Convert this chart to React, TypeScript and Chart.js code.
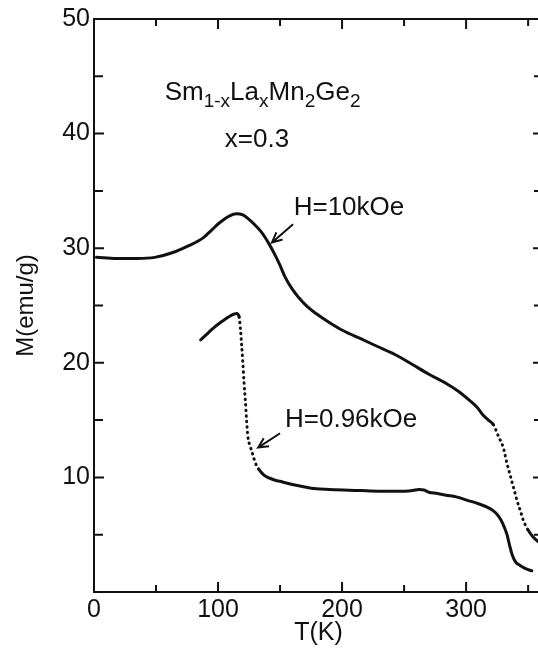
import React, { useEffect, useRef } from "react";
import { Chart, registerables } from "chart.js";

Chart.register(...registerables);

// ---- data ----
const tempHigh = [2, 18, 35, 49, 63, 76, 88, 95, 101, 109, 115, 120, 124, 130, 135, 141, 146, 150, 154, 160, 165, 172, 179, 190, 201, 215, 229, 243, 256, 270, 284, 294, 303, 309, 314, 318, 322, 326, 330, 333, 336, 339, 341, 344, 346, 350, 354, 358];
const magHigh = [29.2, 29.1, 29.1, 29.2, 29.6, 30.2, 30.9, 31.6, 32.2, 32.8, 33.0, 32.9, 32.6, 32.0, 31.4, 30.4, 29.4, 28.5, 27.5, 26.4, 25.7, 24.9, 24.3, 23.5, 22.8, 22.1, 21.4, 20.7, 19.9, 19.0, 18.2, 17.5, 16.7, 16.1, 15.4, 15.0, 14.6, 13.6, 12.6, 11.2, 10.0, 8.8, 8.0, 7.0, 6.3, 5.4, 4.8, 4.4];

const tempLow = [86, 91, 96, 103, 110, 115, 117, 118, 119, 120, 121, 122, 123, 124, 126, 128, 130, 133, 137, 141, 146, 152, 159, 168, 179, 190, 201, 215, 229, 240, 251, 257, 262, 266, 270, 277, 284, 292, 301, 310, 319, 324, 328, 331, 333, 335, 337, 340, 343, 346, 350, 353];
const magLow = [22.0, 22.5, 23.0, 23.6, 24.1, 24.3, 24.0, 23.0, 21.6, 20.0, 18.2, 16.7, 15.0, 13.6, 12.7, 12.0, 11.3, 10.7, 10.2, 9.95, 9.75, 9.6, 9.4, 9.2, 9.0, 8.95, 8.9, 8.85, 8.8, 8.8, 8.8, 8.85, 8.95, 8.9, 8.7, 8.6, 8.45, 8.3, 8.0, 7.7, 7.3, 6.9, 6.3, 5.6, 5.0, 4.1, 3.3, 2.6, 2.35, 2.15, 1.95, 1.85];

const xTickValues = [0, 100, 200, 300];
const xMinorValues = [50, 150, 250, 350];
const yTickValues = [10, 20, 30, 40, 50];
const yMinorValues = [5, 15, 25, 35, 45];

const seriesLabels = ["H=10kOe", "H=0.96kOe"];

const FONT = "'Liberation Sans', Arial, Helvetica, sans-serif";
const INK = "#111";

const framePlugin = {
  id: "frameAndNotes",
  afterDraw(chart: any) {
    const { ctx, chartArea: a, scales } = chart;
    const x = scales.x;
    const y = scales.y;
    ctx.save();
    ctx.strokeStyle = INK;
    ctx.fillStyle = INK;
    ctx.lineWidth = 2;
    ctx.lineCap = "butt";
    // top and right frame
    ctx.beginPath();
    ctx.moveTo(a.left, a.top);
    ctx.lineTo(a.right, a.top);
    ctx.lineTo(a.right, a.bottom);
    ctx.stroke();

    // inward ticks
    const xTick = (v: number, len: number) => {
      const px = x.getPixelForValue(v);
      ctx.beginPath();
      ctx.moveTo(px, a.bottom);
      ctx.lineTo(px, a.bottom - len);
      ctx.moveTo(px, a.top);
      ctx.lineTo(px, a.top + len);
      ctx.stroke();
    };
    const yTick = (v: number, len: number) => {
      const py = y.getPixelForValue(v);
      ctx.beginPath();
      ctx.moveTo(a.left, py);
      ctx.lineTo(a.left + len, py);
      ctx.moveTo(a.right, py);
      ctx.lineTo(a.right - len, py);
      ctx.stroke();
    };
    xTickValues.forEach((v) => xTick(v, 10));
    xMinorValues.forEach((v) => xTick(v, 7));
    yTickValues.forEach((v) => yTick(v, 10));
    yMinorValues.forEach((v) => yTick(v, 9));

    // text runs with subscripts
    const runs = (t: number, m: number, parts: [string, boolean][], size: number) => {
      let px = x.getPixelForValue(t);
      const py = y.getPixelForValue(m);
      ctx.textBaseline = "alphabetic";
      ctx.textAlign = "left";
      parts.forEach(([s, sub]) => {
        const fs = sub ? Math.round(size * 0.74) : size;
        ctx.font = `${fs}px ${FONT}`;
        ctx.fillText(s, px, sub ? py + 7 : py);
        px += ctx.measureText(s).width;
      });
    };
    runs(57, 42.9, [["Sm", false], ["1-x", true], ["La", false], ["x", true], ["Mn", false], ["2", true], ["Ge", false], ["2", true]], 26);
    runs(105.5, 38.85, [["x=0.3", false]], 26);
    runs(161, 32.9, [[seriesLabels[0], false]], 26);
    runs(154, 14.4, [[seriesLabels[1], false]], 26);

    // arrows
    const arrow = (t0: number, m0: number, t1: number, m1: number) => {
      const x0 = x.getPixelForValue(t0), y0 = y.getPixelForValue(m0);
      const x1 = x.getPixelForValue(t1), y1 = y.getPixelForValue(m1);
      const ang = Math.atan2(y1 - y0, x1 - x0);
      const h = 11, spread = 0.45;
      ctx.lineWidth = 2;
      ctx.beginPath();
      ctx.moveTo(x0, y0);
      ctx.lineTo(x1, y1);
      ctx.moveTo(x1 - h * Math.cos(ang - spread), y1 - h * Math.sin(ang - spread));
      ctx.lineTo(x1, y1);
      ctx.lineTo(x1 - h * Math.cos(ang + spread), y1 - h * Math.sin(ang + spread));
      ctx.stroke();
    };
    arrow(160.5, 32.1, 143.5, 30.5);
    arrow(150, 13.85, 132.3, 12.6);
    ctx.restore();
  },
};

const dottedHigh = [321, 350];
const dottedLow = [117, 131];

export default function App() {
  const ref = useRef<HTMLCanvasElement | null>(null);

  useEffect(() => {
    if (!ref.current) return;
    const dash = (range: number[]) => (c: any) => {
      const t = c.p0.parsed.x;
      return t >= range[0] && t < range[1] ? [0.5, 5] : undefined;
    };
    const chart = new Chart(ref.current, {
      type: "line",
      data: {
        datasets: [
          {
            label: seriesLabels[0],
            data: tempHigh.map((t, i) => ({ x: t, y: magHigh[i] })),
            borderColor: INK,
            borderWidth: 3,
            borderCapStyle: "round",
            pointRadius: 0,
            cubicInterpolationMode: "monotone",
            segment: { borderDash: dash(dottedHigh) },
          },
          {
            label: seriesLabels[1],
            data: tempLow.map((t, i) => ({ x: t, y: magLow[i] })),
            borderColor: INK,
            borderWidth: 3,
            borderCapStyle: "round",
            pointRadius: 0,
            cubicInterpolationMode: "monotone",
            segment: { borderDash: dash(dottedLow) },
          },
        ],
      },
      options: {
        responsive: false,
        maintainAspectRatio: false,
        animation: false,
        layout: { padding: { top: 18, right: 7, left: 0, bottom: 0 } },
        plugins: { legend: { display: false }, tooltip: { enabled: false } },
        scales: {
          x: {
            type: "linear",
            min: 0,
            max: 362,
            grid: { display: false, drawTicks: false },
            border: { display: true, color: INK, width: 2 },
            afterBuildTicks: (s: any) => {
              s.ticks = xTickValues.map((v) => ({ value: v }));
            },
            afterFit: (s: any) => {
              s.height = 56;
            },
            ticks: {
              color: INK,
              padding: 3,
              maxRotation: 0,
              autoSkip: false,
              font: { family: FONT, size: 25 },
            },
            title: {
              display: true,
              text: "T(K)",
              color: INK,
              font: { family: FONT, size: 25, lineHeight: 1 },
              padding: { top: 0, bottom: 2.5 },
            },
          },
          y: {
            type: "linear",
            min: 0,
            max: 50,
            grid: { display: false, drawTicks: false },
            border: { display: true, color: INK, width: 2 },
            afterBuildTicks: (s: any) => {
              s.ticks = yTickValues.map((v) => ({ value: v }));
            },
            afterFit: (s: any) => {
              s.width = 94;
            },
            ticks: {
              color: INK,
              padding: 4,
              autoSkip: false,
              font: { family: FONT, size: 25 },
            },
            title: {
              display: true,
              text: "M(emu/g)",
              color: INK,
              font: { family: FONT, size: 24, lineHeight: 1 },
              padding: { top: 14, bottom: 0 },
            },
          },
        },
      },
      plugins: [framePlugin],
    } as any);
    return () => chart.destroy();
  }, []);

  return (
    <div
      style={{
        position: "fixed",
        left: 0,
        top: 0,
        width: 538,
        height: 648,
        overflow: "hidden",
        background: "#fff",
      }}
    >
      <canvas ref={ref} width={550} height={648} style={{ width: 550, height: 648, display: "block" }} />
    </div>
  );
}
